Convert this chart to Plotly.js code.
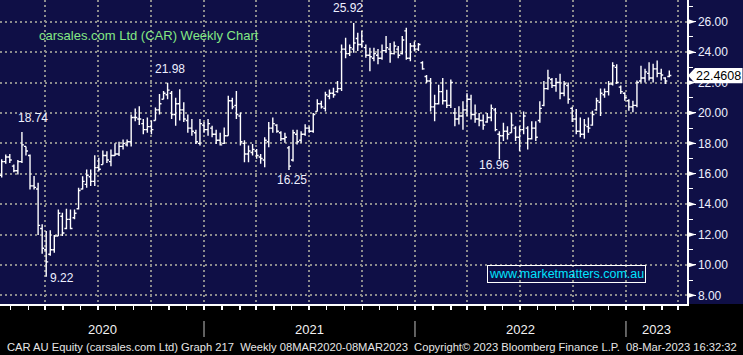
<!DOCTYPE html>
<html><head><meta charset="utf-8">
<script src="https://cdn.plot.ly/plotly-3.0.1.min.js"></script>
<style>html,body{margin:0;padding:0;background:#000;}#chart{width:743px;height:355px;}</style>
</head><body><div id="chart"></div>
<script>
// Weekly bars, first bar week ending 10-Jan-2020, last bar week ending 10-Mar-2023
const firstWeek = '2020-01-10';
const opens = [15.9,16.8,17.1,16.5,16.2,16.8,17.8,17.2,15.2,15.0,12.4,11.0,10.7,11.0,11.9,13.2,12.4,13.0,13.1,13.7,
15.0,15.3,15.8,15.5,16.4,16.6,17.2,16.8,17.2,17.3,17.8,17.9,18.1,19.7,19.6,19.3,18.9,19.1,19.5,20.2,
20.9,21.2,21.3,19.9,20.6,20.2,19.5,19.0,18.7,18.0,19.2,18.9,19.0,18.6,18.2,18.0,18.5,20.8,20.5,19.8,
18.0,17.3,17.4,17.5,17.1,16.9,18.1,19.0,19.2,18.7,18.3,17.7,16.9,18.6,18.2,18.6,19.0,18.8,20.1,20.6,
20.3,21.1,21.3,21.4,21.6,24.2,23.9,24.2,24.9,24.5,24.3,23.8,23.6,23.8,23.6,24.1,24.2,23.9,24.2,23.9,
25.4,23.6,24.4,24.2,23.3,22.4,22.1,20.4,20.6,21.4,20.8,20.5,20.0,19.6,19.8,20.2,20.9,19.9,19.6,19.5,
19.4,19.7,20.2,18.6,18.5,18.8,18.7,19.0,18.4,18.9,19.0,18.3,19.0,19.5,20.5,21.6,22.2,21.8,22.0,21.3,
21.8,20.3,19.6,18.8,18.6,19.1,19.2,20.2,20.7,21.2,21.4,21.9,23.0,21.7,21.3,20.8,20.4,20.5,22.1,22.3,
22.6,22.3,22.9,22.6,22.3,22.4];
const highs = [16.95,17.26,17.3,16.6,16.9,18.74,17.8,17.26,15.85,15.4,12.67,12.23,12.28,11.97,13.65,13.43,13.7,13.65,13.65,15.08,
15.84,16.28,16.28,17.22,17.05,17.53,17.48,17.6,18.0,18.1,18.25,18.25,19.9,20.3,20.44,19.6,19.7,19.5,20.36,21.24,
21.45,21.98,21.45,21.0,21.56,20.7,19.9,19.6,18.9,19.6,19.4,19.6,19.16,18.9,18.7,19.05,21.13,21.0,21.45,20.03,
18.2,17.85,17.96,17.63,17.3,18.4,19.4,19.7,19.25,18.8,18.7,17.82,18.9,18.9,18.8,19.25,19.1,20.0,20.9,20.8,
21.4,21.55,21.66,22.1,24.5,24.95,24.5,25.92,25.28,25.39,24.5,24.29,24.29,24.2,24.5,25.06,24.6,24.7,24.4,25.06,
25.6,24.6,24.7,24.6,23.4,22.5,22.3,21.2,21.86,22.3,21.53,22.2,20.33,20.44,20.77,21.3,21.2,20.55,20.0,19.9,
20.0,20.55,20.33,18.8,19.35,19.13,20.0,19.13,19.13,20.1,19.13,19.46,19.46,20.77,22.1,22.84,22.3,22.3,22.57,22.1,
22.0,20.4,20.26,19.7,19.6,19.7,20.15,21.0,21.6,21.6,22.1,23.34,23.2,21.8,21.36,20.9,20.8,22.13,23.1,22.9,
23.34,23.23,23.45,22.9,22.35,22.8];
const lows = [15.75,16.65,16.7,16.1,15.95,16.7,17.2,14.97,14.97,11.97,10.74,9.22,10.6,10.8,11.9,11.9,12.34,12.34,13.0,13.65,
14.97,15.08,15.19,15.19,16.17,16.6,16.7,16.5,17.16,17.16,17.6,17.8,17.8,19.45,19.2,18.6,18.7,18.6,19.5,19.9,
20.9,20.9,19.6,19.16,19.5,19.4,18.7,18.5,17.96,17.85,18.7,18.5,18.4,17.96,17.85,17.96,18.5,20.25,19.6,17.85,
16.76,16.76,17.2,16.98,16.65,16.43,17.74,18.7,18.7,18.15,18.04,16.25,16.8,17.93,18.04,18.5,18.7,18.7,20.1,20.3,
20.1,20.9,21.0,21.33,21.44,23.6,23.74,23.96,24.07,24.29,23.63,22.75,23.4,23.2,23.5,23.96,23.3,23.85,23.6,23.85,
23.5,23.4,24.07,24.07,22.84,21.97,20.1,19.46,20.55,20.55,20.33,20.33,19.13,19.24,18.9,19.8,19.57,19.35,19.13,18.9,
19.35,19.46,18.8,16.96,18.15,18.26,18.7,18.15,17.5,18.6,17.6,18.26,18.15,19.35,20.44,21.53,21.64,21.4,20.9,21.1,
20.6,19.4,18.6,18.4,18.3,18.7,19.16,20.15,19.8,21.0,21.14,21.8,21.9,21.25,20.8,20.15,20.04,20.37,22.0,22.0,
22.13,22.0,22.35,22.13,21.9,22.35];
const closes = [16.8,17.1,16.9,16.2,16.8,17.9,17.5,15.2,15.1,12.6,11.1,10.2,11.0,11.9,13.4,12.1,13.0,12.4,13.4,14.9,
15.5,15.9,15.5,16.4,16.3,17.2,16.9,17.2,17.3,17.8,18.0,18.1,19.7,19.7,19.6,18.9,19.1,18.9,20.2,20.6,
21.3,21.5,19.9,20.6,20.2,19.6,19.0,18.8,18.1,19.3,18.9,19.3,18.6,18.2,17.9,18.5,20.8,20.4,19.9,18.1,
17.3,17.5,17.6,17.2,17.0,18.2,19.0,19.3,18.8,18.3,18.4,16.5,18.7,18.1,18.6,19.0,18.8,19.9,20.6,20.4,
21.2,21.3,21.2,21.6,24.2,23.9,24.3,24.6,24.5,24.7,23.8,23.7,23.9,23.6,24.1,24.3,23.9,24.4,23.8,24.8,
23.6,24.4,24.2,24.5,22.9,22.1,20.4,20.6,21.4,20.8,20.5,22.0,19.6,19.8,20.2,20.9,19.9,19.6,19.5,19.2,
19.7,20.3,18.9,18.5,18.8,18.6,19.2,18.4,18.9,19.8,18.3,19.0,18.4,20.3,21.6,22.3,21.8,22.0,21.3,21.9,
20.9,19.6,18.8,18.6,19.2,19.0,19.9,20.8,21.3,21.4,21.9,23.1,22.0,21.4,21.0,20.4,20.5,22.0,22.3,22.7,
22.3,22.9,22.6,22.5,22.1,22.4608];

const yTickValues = [8,10,12,14,16,18,20,22,24,26];
const yearLabels = ['2020','2021','2022','2023'];
const yearBreaks = ['2020-12-25','2021-12-25','2022-12-25'];
const xRange = ['2020-01-07 01:25','2023-04-09 14:24'];
const titleText = 'carsales.com Ltd (CAR) Weekly Chart';
const footerText = 'CAR AU Equity (carsales.com Ltd) Graph 217  Weekly 08MAR2020-08MAR2023  Copyright\u00a9 2023 Bloomberg Finance L.P.  08-Mar-2023 16:32:32';
const watermarkText = 'www.marketmatters.com.au';
// labelled extremes: [bar index, 'high' | 'low']
const markedBars = [[5,'high'],[41,'high'],[87,'high'],[71,'low'],[123,'low'],[11,'low']];

function weeklyDates(start, n){
  const out = []; const t0 = Date.parse(start + 'T00:00:00Z');
  for (let i = 0; i < n; i++) out.push(new Date(t0 + i*7*864e5).toISOString().slice(0,10));
  return out;
}
const weeks = weeklyDates(firstWeek, closes.length);

const W = 687, H = 304; // plot area px
const navy = '#0f0f46';
const fontMain = 'Liberation Sans, Arial, sans-serif';

const trace = {
  type: 'ohlc', x: weeks, open: opens, high: highs, low: lows, close: closes,
  increasing: {line: {color: '#ffffff', width: 1.4}},
  decreasing: {line: {color: '#ffffff', width: 1.4}},
  tickwidth: 0.5, hoverinfo: 'skip'
};

const shapes = [];
shapes.push({type:'rect', xref:'paper', yref:'paper', x0:0, x1:743/W, y0:-51/H, y1:0, fillcolor:'#000', line:{width:0}, layer:'below'});
yTickValues.forEach(v => {
  shapes.push({type:'path', xref:'paper', yref:'y', path:`M 1 ${v+0.19} L ${1+9/W} ${v} L 1 ${v-0.19} Z`, fillcolor:'#ffffff', line:{width:0}, layer:'above'});
});
const last = closes[closes.length-1];
const hh = 0.5;
shapes.push({type:'path', xref:'paper', yref:'y',
  path:`M ${1+1/W} ${last} L ${1+8/W} ${last+hh} L ${1+55.5/W} ${last+hh} L ${1+55.5/W} ${last-hh} L ${1+8/W} ${last-hh} Z`,
  fillcolor:'#ffffff', line:{width:0}, layer:'above'});
yearBreaks.forEach(d => {
  shapes.push({type:'line', xref:'x', yref:'paper', x0:d, x1:d, y0:-17/H, y1:-33/H, line:{color:'#808080', width:1.5}});
});

const annotations = [];
annotations.push({text: titleText, xref:'paper', yref:'paper', x:37/W, y:1-35.5/H, xanchor:'left', yanchor:'middle', showarrow:false,
  font:{family:fontMain, size:13, color:'#84e884'}});
const shifts = {5:[11,14], 41:[2,14], 87:[-6,15], 71:[3,-10], 123:[-5,-6], 11:[15.5,-1]};
markedBars.forEach(([i,kind]) => {
  const v = kind === 'high' ? highs[i] : lows[i];
  annotations.push({text: v.toFixed(2), xref:'x', yref:'y', x: weeks[i], y: v, xshift: shifts[i][0], yshift: shifts[i][1],
    xanchor:'center', yanchor:'middle', showarrow:false, font:{family:fontMain, size:12, color:'#eef0ff'}});
});
annotations.push({text: String(last), xref:'paper', yref:'y', x:1+31.5/W, y:last, xanchor:'center', yanchor:'middle', showarrow:false,
  font:{family:fontMain, size:12.5, color:'#000'}});
annotations.push({text: watermarkText, xref:'paper', yref:'paper', x:566.5/W, y:1-273.7/H, xanchor:'center', yanchor:'middle', showarrow:false,
  bordercolor:'#ffffff', borderwidth:1, borderpad:1, font:{family:fontMain, size:12.5, color:'#00e5ff'}});
const edges = [xRange[0]].concat(yearBreaks, [xRange[1]]).map(s => Date.parse(s.replace(' ','T') + (s.length>10?':00Z':'T00:00:00Z')));
yearLabels.forEach((lab, k) => {
  const mid = new Date((edges[k] + edges[k+1]) / 2).toISOString().replace('T',' ').slice(0,19);
  annotations.push({text: lab, xref:'x', yref:'paper', x: mid, y: -(329-304)/H, xanchor:'center', yanchor:'middle', showarrow:false,
    font:{family:fontMain, size:13, color:'#f2f2f2'}});
});
annotations.push({text: footerText, xref:'paper', yref:'paper', x:371.5/W, y:-(346.5-304)/H, xanchor:'center', yanchor:'middle', showarrow:false,
  font:{family:fontMain, size:11.2, color:'#e6e6e6'}});

const gridStyle = {showgrid:true, gridcolor:'#8c8c8c', griddash:'2px,3px', gridwidth:2};
const layout = {
  width: 743, height: 355,
  margin: {l:0, r:56, t:0, b:51, pad:0},
  paper_bgcolor: navy, plot_bgcolor: navy,
  showlegend: false,
  font: {family: fontMain},
  xaxis: Object.assign({type:'date', range:xRange, tick0:'2019-12-25', dtick:'M3', ticks:'outside', ticklen:4, tickcolor:'#fff', tickwidth:1.5,
    showticklabels:false, showline:true, linecolor:'#fff', linewidth:1.5, zeroline:false, rangeslider:{visible:false}, fixedrange:true,
    minor:{tick0:'2019-12-25', dtick:'M1', ticks:'outside', ticklen:4, tickcolor:'#fff', tickwidth:1.5, showgrid:false}}, gridStyle),
  yaxis: Object.assign({side:'right', range:[7.43,27.43], tickmode:'array', tickvals:yTickValues, tickformat:'.2f', ticks:'outside', ticklen:7,
    tickcolor:'#fff', tickwidth:1, showline:true, linecolor:'#fff', linewidth:1.5, zeroline:false, fixedrange:true,
    tickfont:{family:fontMain, size:12, color:'#eef0ff'},
    minor:{dtick:1, ticks:'outside', ticklen:4, tickcolor:'#fff', tickwidth:1, showgrid:false}}, gridStyle),
  shapes: shapes, annotations: annotations
};
Plotly.newPlot('chart', [trace], layout, {staticPlot:true, displayModeBar:false});
</script></body></html>
